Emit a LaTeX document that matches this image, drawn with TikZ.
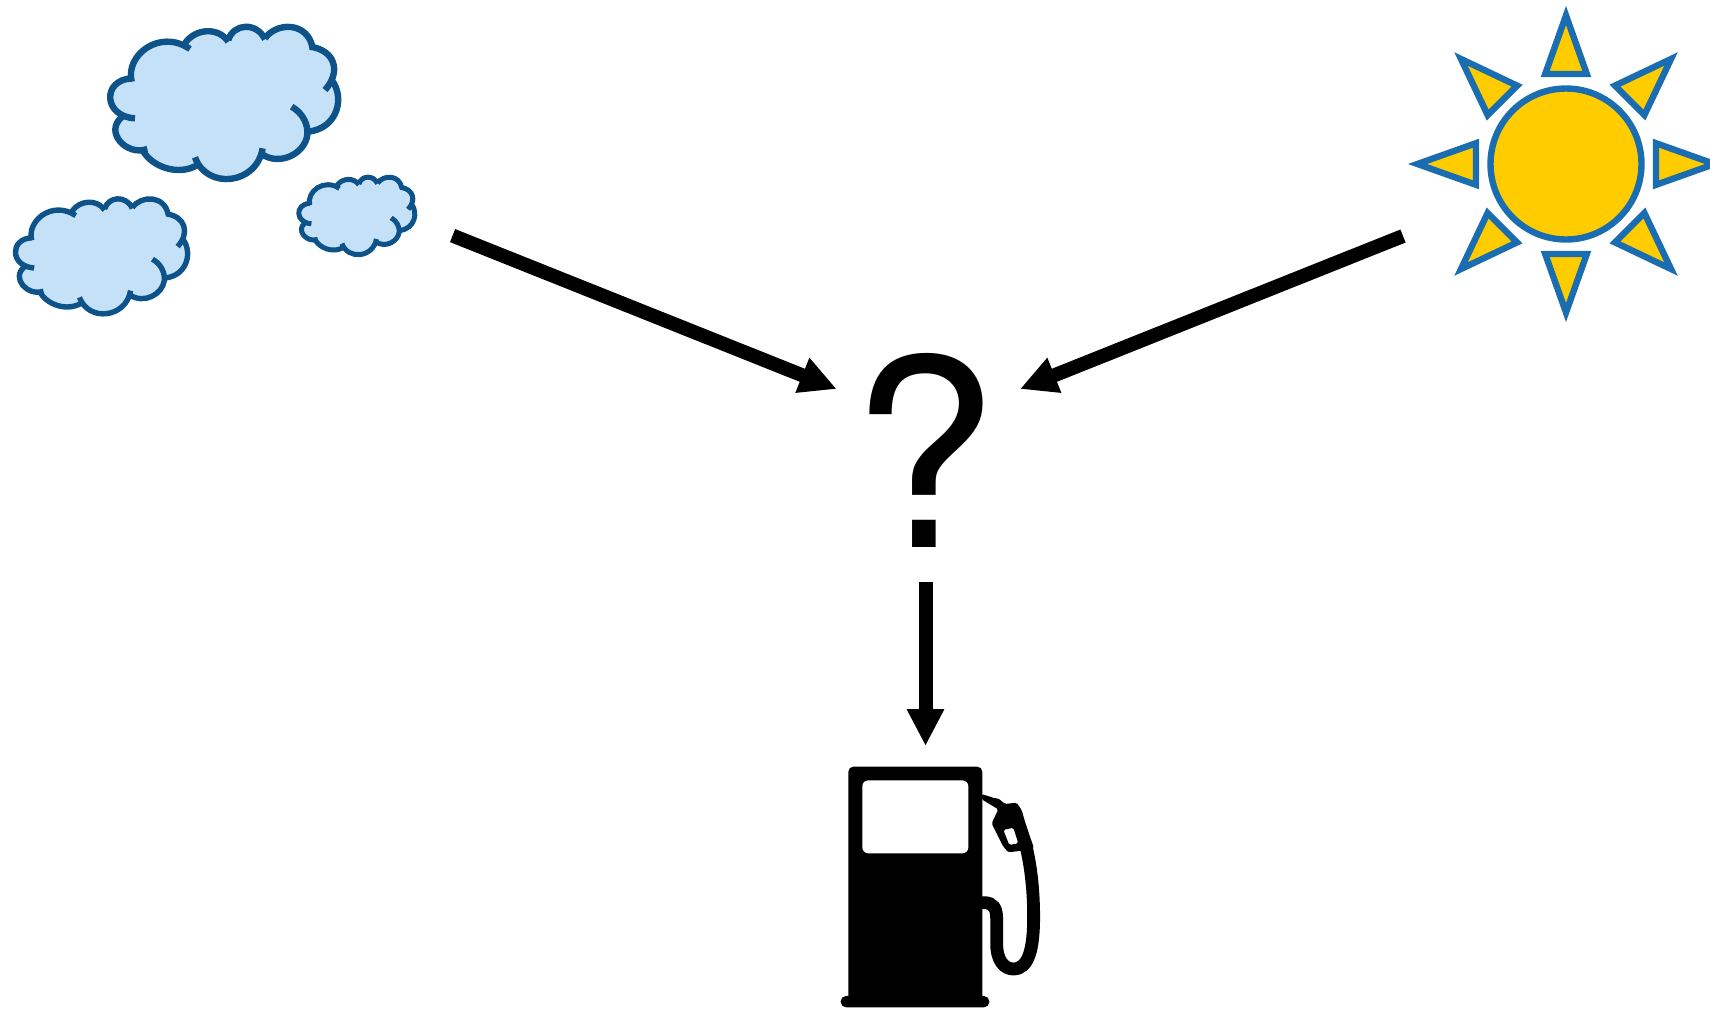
\documentclass[tikz,border=0pt]{standalone}
\usepackage{fontspec}
\setmainfont{TeX Gyre Heros}
\usetikzlibrary{arrows.meta}
\definecolor{cloudfill}{HTML}{C5E1F8}
\definecolor{cloudline}{HTML}{0D5288}
\definecolor{sunfill}{HTML}{FFCC00}
\definecolor{sunline}{HTML}{1A6DB0}
\tikzset{
  flow/.style={line width=7pt,-{Triangle[length=18.5pt,width=17.5pt]}},
  cloudedge/.style={draw=cloudline,line cap=butt,line join=round},
  sunpart/.style={draw=sunline,fill=sunfill,line width=3.2pt},
  hose/.style={draw=black,line cap=butt}
}
\newcommand{\cloudshape}[1]{%
  \fill[cloudfill] (125,245) .. controls (105,165) and (210,85) .. (300,147)
    -- (285,130) .. controls (315,85) and (385,80) .. (415,125)
    -- (415,120) .. controls (430,70) and (500,65) .. (525,118)
    -- (525,115) .. controls (560,65) and (655,65) .. (668,145)
    -- (660,140) .. controls (735,150) and (755,215) .. (705,270)
    -- (725,240) .. controls (765,290) and (745,385) .. (655,395)
    -- (652,405) .. controls (645,460) and (570,500) .. (515,462)
    -- (518,445) .. controls (500,555) and (350,570) .. (315,472)
    -- (322,495) .. controls (265,530) and (180,500) .. (155,445)
    -- (172,447) .. controls (110,470) and (40,395) .. (97,350)
    -- (135,355) .. controls (40,350) and (35,240) .. (125,235) -- cycle;
  \begin{scope}[cloudedge,line width=#1]
    \draw (125,245) .. controls (105,165) and (210,85) .. (300,147);
    \draw (285,130) .. controls (315,85) and (385,80) .. (415,125);
    \draw (415,120) .. controls (430,70) and (500,65) .. (525,118);
    \draw (525,115) .. controls (560,65) and (655,65) .. (668,145);
    \draw (660,140) .. controls (735,150) and (755,215) .. (705,270);
    \draw (725,240) .. controls (765,290) and (745,385) .. (655,395);
    \draw (605,320) .. controls (640,340) and (655,375) .. (652,405)
       .. controls (645,460) and (570,500) .. (515,462);
    \draw (518,445) .. controls (500,555) and (350,570) .. (315,472);
    \draw (322,495) .. controls (265,530) and (180,500) .. (155,445);
    \draw (172,447) .. controls (110,470) and (40,395) .. (97,350);
    \draw (135,355) .. controls (40,350) and (35,240) .. (125,235);
  \end{scope}}
\begin{document}
\begin{tikzpicture}[x=0.5pt,y=-0.5pt]
\useasboundingbox (0,0) rectangle (1710,1009);
% clouds
\begin{scope}[shift={(90,0)},scale=0.3333]\cloudshape{3.2pt}\end{scope}
\begin{scope}[shift={(0.2,178.6)},scale=0.2517]\cloudshape{2.7pt}\end{scope}
\begin{scope}[shift={(288.5,163.5)},scale=0.1697]\cloudshape{2.5pt}\end{scope}
% sun
\begin{scope}
\clip (0,0) rectangle (1710,1009);
\foreach \a in {0,45,...,315}{
  \draw[sunpart,rotate around={\a:(1566,164)}]
    (1566,15.5) -- (1586.8,74) -- (1545.2,74) -- cycle;
}
\draw[sunpart] (1566,164) circle [radius=75.5];
\end{scope}
% question mark
\node[inner sep=0pt,font=\fontsize{131}{131}\selectfont] (q) at (924,450) {?};
% connector ends
\coordinate (cloudsout) at (452.6,235.6);
\coordinate (sunout) at (1403,236);
\coordinate (qleft) at (836.7,389);
\coordinate (qright) at (1020,389);
\coordinate (qout) at (925.5,582);
\coordinate (pumpin) at (925.5,746);
\draw[flow] (cloudsout) -- (qleft);
\draw[flow] (sunout) -- (qright);
\draw[flow] (qout) -- (pumpin);
% pump
\begin{scope}[shift={(780,720)},scale=0.3333]
\fill[black,rounded corners=2.5pt] (205,140) rectangle (607,850);
\fill[black,rounded corners=2.7pt] (182,828) rectangle (628,862);
\fill[white,rounded corners=3pt] (247,181) rectangle (565,400);
\draw[hose,line width=6.4pt] (600,548) -- (612,548) .. controls (640,548) and (650,565) .. (650,595)
  -- (650,670) .. controls (650,725) and (675,747) .. (700,747)
  .. controls (745,747) and (761,690) .. (761,590)
  .. controls (761,500) and (750,425) .. (737,375);
\fill[black,even odd rule,rounded corners=0.8pt] (605,222) -- (645,235) -- (655,235) -- (675,252) -- (710,248) -- (725,270) -- (735,305) -- (762,385) -- (725,392) -- (685,397) -- (670,380) -- (635,310) -- (655,268) -- (605,238) -- cycle
  (670,330) -- (700,323) -- (715,370) -- (688,375) -- cycle;
\end{scope}
\end{tikzpicture}
\end{document}
